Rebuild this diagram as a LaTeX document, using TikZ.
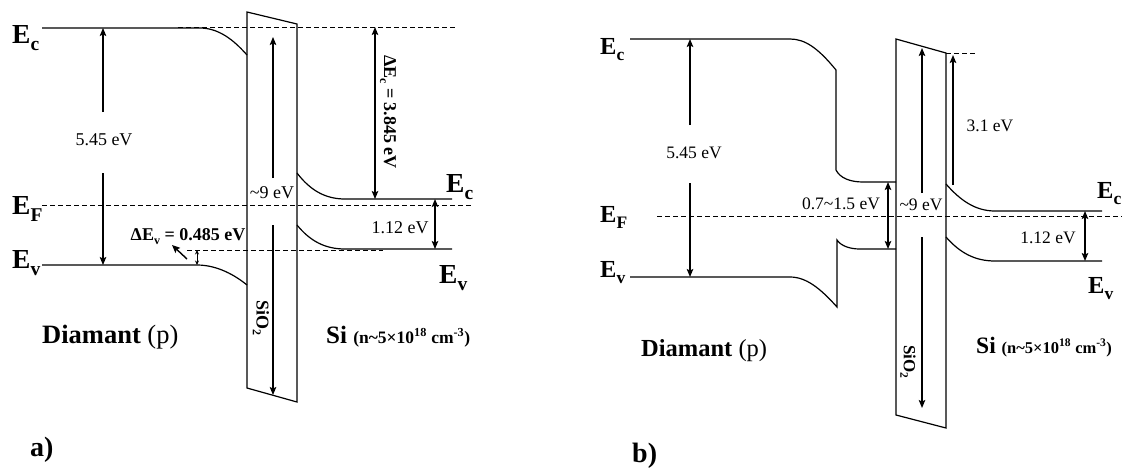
\documentclass[tikz,border=0pt]{standalone}
\usepackage{fontspec}
\setmainfont{Liberation Serif}
\usetikzlibrary{arrows.meta}
\newcommand\Elev[3]{{\fontsize{#1}{#1}\selectfont\bfseries E\raisebox{-0.26em}{\fontsize{#2}{#2}\selectfont #3}}}
\newcommand\dsub[1]{\raisebox{-0.22em}{\fontsize{12}{12}\selectfont #1}}
\begin{document}
\begin{tikzpicture}[x=1pt,y=-1pt,
  band/.style={line width=1.2pt,line join=miter},
  dsh/.style={line width=1pt,dash pattern=on 5pt off 3pt},
  arr/.style={line width=1.2pt,-{Stealth[length=8pt,width=6.5pt,inset=1.5pt]}},
  darr/.style={line width=1.2pt,{Stealth[length=8pt,width=6.5pt,inset=1.5pt]}-{Stealth[length=8pt,width=6.5pt,inset=1.5pt]}},
  sdarr/.style={line width=0.9pt,{Stealth[length=4.5pt,width=4pt]}-{Stealth[length=4.5pt,width=4pt]}},
  lvl/.style={inner sep=0pt,anchor=base west},
  vala/.style={inner sep=0pt,font=\fontsize{18}{20}\selectfont},
  valb/.style={inner sep=0pt,font=\fontsize{17.5}{19}\selectfont},
  mat/.style={inner sep=0pt,anchor=base west},
  oxl/.style={inner sep=0pt,rotate=-90,font=\fontsize{18}{20}\selectfont\bfseries}
]
\useasboundingbox (0,0) rectangle (1126,472);

% ================= panel a =================
% oxide
\draw[band] (247,12) -- (297,24) -- (297,402) -- (247,388) -- cycle;
% diamond bands
\draw[band] (42,28) -- (200,28) .. controls (222,28) and (238,45) .. (247,55);
\draw[band] (42,265) -- (197,265) .. controls (218,265) and (236,276) .. (247,285);
% Si bands
\draw[band] (297,173) .. controls (310,190) and (325,199) .. (345,199) -- (452,199);
\draw[band] (297,225) .. controls (310,241) and (325,249) .. (345,249) -- (452,249);
% dashed levels
\draw[dsh] (178,27) -- (455,27);
\draw[dsh] (42,205) -- (472,205);
\draw[dsh] (187,250) -- (383,250);

% level labels
\node[lvl] (EcLa) at (12,43) {\Elev{27.5pt}{19.5pt}{c}};
\node[lvl] (EFLa) at (12,214) {\Elev{27.5pt}{19.5pt}{F}};
\node[lvl] (EvLa) at (12,268) {\Elev{27.5pt}{19.5pt}{v}};
\node[lvl] (EcRa) at (446,192) {\Elev{27.5pt}{19.5pt}{c}};
\node[lvl] (EvRa) at (439,283) {\Elev{27.5pt}{19.5pt}{v}};

% value labels
\node[vala] (gapA) at (104,140) {5.45 eV};
\node[vala] (oxA) at (272,193) {\textasciitilde9 eV};
\node[vala,rotate=-90,font=\fontsize{18}{20}\selectfont\bfseries] (dEcA) at (388,112) {ΔE\dsub{c} = 3.845 eV};
\node[vala] (siA) at (400,228) {1.12 eV};
\node[vala,font=\fontsize{18}{20}\selectfont\bfseries] (dEvA) at (188,237) {ΔE\dsub{v} = 0.485 eV};
\node[oxl] (sio2A) at (261,318) {SiO\raisebox{-0.2em}{\fontsize{12}{12}\selectfont 2}};

% arrow end points
\coordinate (a1t) at (103,28);  \coordinate (a1u) at (103,112);
\coordinate (a1l) at (103,173); \coordinate (a1b) at (103,265);
\coordinate (a2t) at (273,37);  \coordinate (a2u) at (273,178);
\coordinate (a2l) at (273,225); \coordinate (a2b) at (273,395);
\coordinate (a3t) at (375,27);  \coordinate (a3b) at (375,199);
\coordinate (a4t) at (435,199); \coordinate (a4b) at (435,249);
\coordinate (a5t) at (197,250); \coordinate (a5b) at (197,265);
\coordinate (a6s) at (187,259); \coordinate (a6e) at (172,245);

\draw[arr] (a1u) -- (a1t);
\draw[arr] (a1l) -- (a1b);
\draw[arr] (a2u) -- (a2t);
\draw[arr] (a2l) -- (a2b);
\draw[darr] (a3t) -- (a3b);
\draw[darr] (a4t) -- (a4b);
\draw[sdarr] (a5t) -- (a5b);
\draw[line width=1.4pt,-{Stealth[length=8pt,width=7pt,inset=1.5pt]}] (a6s) -- (a6e);

% material labels
\node[mat] (diaA) at (42,343) {\fontsize{26.5}{28}\selectfont\textbf{Diamant} (p)};
\node[mat] (siMatA) at (326,343) {\fontsize{25}{27}\selectfont\textbf{Si} {\fontsize{17.5}{19}\selectfont\bfseries (n\textasciitilde5×10\textsuperscript{18} cm\textsuperscript{-3})}};
\node[mat] (tagA) at (30,456) {\fontsize{28}{30}\selectfont\bfseries a)};

% ================= panel b =================
% oxide
\draw[band] (896,39) -- (946,53) -- (946,428) -- (896,415) -- cycle;
% diamond bands
\draw[band] (630,39) -- (790,39) .. controls (805,39) and (818,48) .. (836,70) -- (836,170) .. controls (840,178) and (850,182) .. (863,182) -- (896,182);
\draw[band] (630,277) -- (790,277) .. controls (806,277) and (820,288) .. (837,307) -- (837,240) .. controls (841,246) and (850,249) .. (860,249) -- (896,249);
% Si bands
\draw[band] (946,184) .. controls (960,200) and (975,211) .. (995,211) -- (1102,211);
\draw[band] (946,237) .. controls (960,253) and (975,261) .. (995,261) -- (1102,261);
% dashed
\draw[dsh] (657,216) -- (1122,216);
\draw[dsh] (946,53) -- (976,53);

% level labels
\node[lvl] (EcLb) at (600,54) {\Elev{24.5pt}{17.5pt}{c}};
\node[lvl] (EFLb) at (600,222) {\Elev{24.5pt}{17.5pt}{F}};
\node[lvl] (EvLb) at (600,277) {\Elev{24.5pt}{17.5pt}{v}};
\node[lvl] (EcRb) at (1097,198) {\Elev{24.5pt}{17.5pt}{c}};
\node[lvl] (EvRb) at (1088,293) {\Elev{24.5pt}{17.5pt}{v}};

% value labels
\node[valb] (gapB) at (694,153) {5.45 eV};
\node[valb] (oxB) at (921,205) {\textasciitilde9 eV};
\node[valb] (cbB) at (990,126) {3.1 eV};
\node[valb] (siB) at (1048,238) {1.12 eV};
\node[valb] (ifB) at (841,204) {0.7\textasciitilde1.5 eV};
\node[oxl,font=\fontsize{17}{19}\selectfont\bfseries] (sio2B) at (908,362) {SiO\raisebox{-0.2em}{\fontsize{11.5}{12}\selectfont 2}};

% arrow end points
\coordinate (b1t) at (690,39);  \coordinate (b1u) at (690,125);
\coordinate (b1l) at (690,183); \coordinate (b1b) at (690,277);
\coordinate (b2t) at (922,48);  \coordinate (b2u) at (922,193);
\coordinate (b2l) at (922,237); \coordinate (b2b) at (922,408);
\coordinate (b3s) at (953,185); \coordinate (b3e) at (953,55);
\coordinate (b4t) at (888,182); \coordinate (b4b) at (888,249);
\coordinate (b5t) at (1085,211); \coordinate (b5b) at (1085,261);

\draw[arr] (b1u) -- (b1t);
\draw[arr] (b1l) -- (b1b);
\draw[arr] (b2u) -- (b2t);
\draw[arr] (b2l) -- (b2b);
\draw[arr] (b3s) -- (b3e);
\draw[darr] (b4t) -- (b4b);
\draw[darr] (b5t) -- (b5b);

% material labels
\node[mat] (diaB) at (641,356) {\fontsize{24.5}{26}\selectfont\textbf{Diamant} (p)};
\node[mat] (siMatB) at (976,353) {\fontsize{23.5}{25}\selectfont\textbf{Si} {\fontsize{16.5}{18}\selectfont\bfseries (n\textasciitilde5×10\textsuperscript{18} cm\textsuperscript{-3})}};
\node[mat] (tagB) at (632,462) {\fontsize{28}{30}\selectfont\bfseries b)};
\end{tikzpicture}
\end{document}
